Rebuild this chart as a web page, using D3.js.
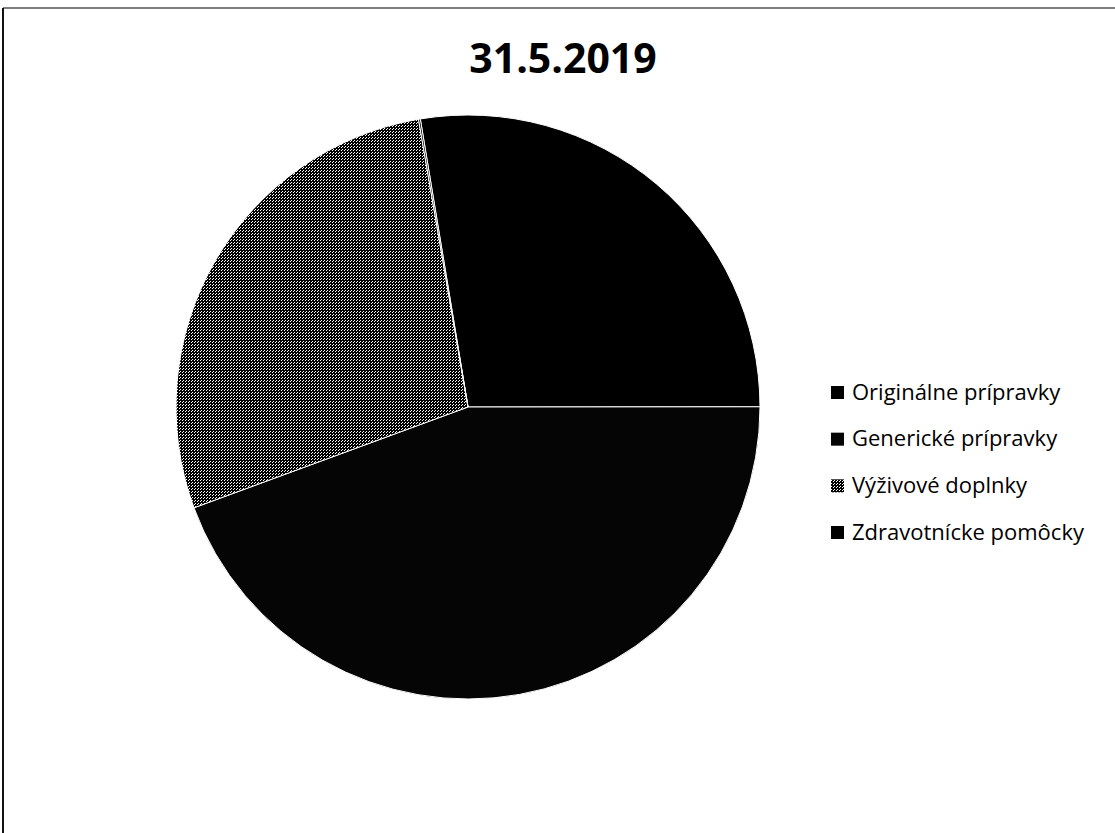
<!DOCTYPE html>
<html>
<head>
<meta charset="utf-8">
<title>31.5.2019</title>
<script src="https://d3js.org/d3.v7.min.js"></script>
<style>
  body { margin: 0; background: #fff; }
  text { font-family: "Open Sans", "Noto Sans", sans-serif; }
</style>
</head>
<body>
<div id="chart"></div>
<script>
var title = "31.5.2019";
var categories = ["Originálne prípravky", "Generické prípravky", "Výživové doplnky", "Zdravotnícke pomôcky"];
var shares = [27.6, 44.4, 27.9, 0.1];

var width = 1115, height = 833;
var cx = 468, cy = 407, radius = 292;

var svg = d3.select("#chart").append("svg")
    .attr("width", width)
    .attr("height", height);

// scanned-looking dither for the grey slice
var defs = svg.append("defs");
var pat = defs.append("pattern")
    .attr("id", "dither")
    .attr("width", 3).attr("height", 3)
    .attr("patternUnits", "userSpaceOnUse");
pat.append("rect").attr("width", 3).attr("height", 3).attr("fill", "#000");
pat.append("rect").attr("x", 0).attr("y", 0).attr("width", 1).attr("height", 1).attr("fill", "#fff");
pat.append("rect").attr("x", 2).attr("y", 1).attr("width", 1).attr("height", 1).attr("fill", "#fff");

var color = d3.scaleOrdinal()
    .domain(categories)
    .range(["#000", "#050505", "url(#dither)", "#000"]);

// chart frame (top and left edges are all that show)
svg.append("line")
    .attr("x1", 3).attr("y1", 8).attr("x2", width).attr("y2", 8)
    .attr("stroke", "#555").attr("stroke-width", 1.5);
svg.append("line")
    .attr("x1", 3).attr("y1", 8).attr("x2", 3).attr("y2", height)
    .attr("stroke", "#111").attr("stroke-width", 2);

svg.append("text")
    .attr("x", 563).attr("y", 73)
    .attr("text-anchor", "middle")
    .style("font-size", "41px")
    .style("font-weight", "bold")
    .text(title);

var start = -9.4 * Math.PI / 180;
var pie = d3.pie().sort(null)
    .startAngle(start).endAngle(start + 2 * Math.PI);
var arc = d3.arc().innerRadius(0).outerRadius(radius);

var data = categories.map(function(c, i) { return {name: c, value: shares[i]}; });

svg.append("g")
    .attr("transform", "translate(" + cx + "," + cy + ")")
    .selectAll("path")
    .data(pie.value(function(d) { return d.value; })(data))
    .enter()
    .append("path")
    .attr("d", arc)
    .attr("fill", function(d) { return color(d.data.name); })
    .attr("stroke", "#fff")
    .attr("stroke-width", 1);

// legend
var legend = svg.append("g").attr("transform", "translate(831,0)");
var rowY = d3.scalePoint().domain(categories).range([392, 532]);

legend.selectAll("rect")
    .data(categories)
    .enter()
    .append("rect")
    .attr("x", 0)
    .attr("y", function(d) { return rowY(d) - 6; })
    .attr("width", 13).attr("height", 13)
    .attr("fill", function(d) { return color(d); });

legend.selectAll("text")
    .data(categories)
    .enter()
    .append("text")
    .attr("x", 21)
    .attr("y", function(d) { return rowY(d); })
    .attr("dy", "0.35em")
    .style("font-size", "22px")
    .text(function(d) { return d; });
</script>
</body>
</html>
